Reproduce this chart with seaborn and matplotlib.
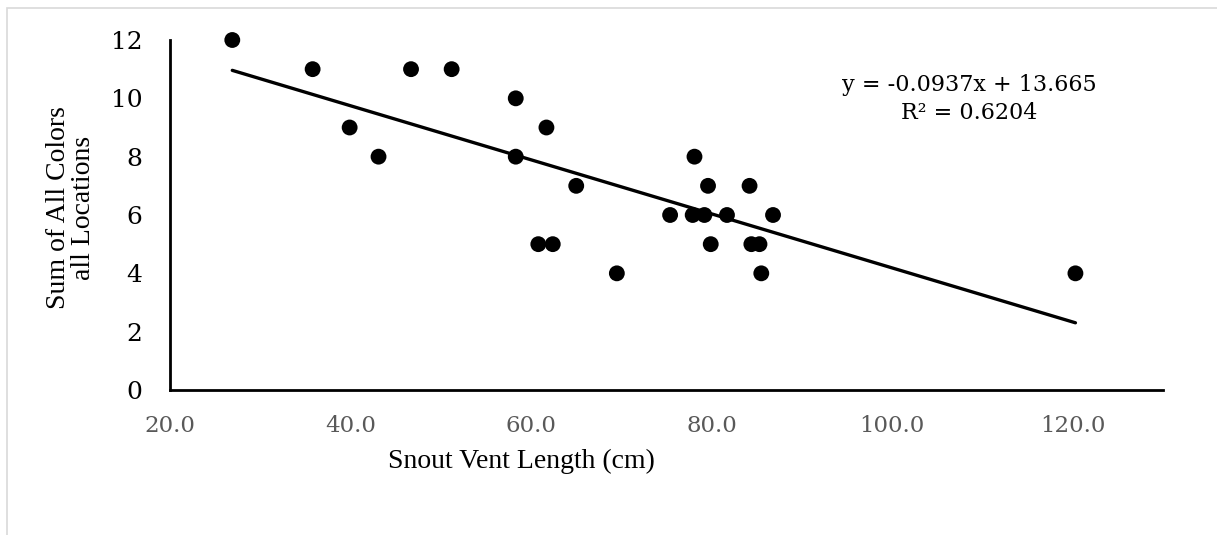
import matplotlib
matplotlib.use("Agg")
import matplotlib.pyplot as plt
from matplotlib.patches import Rectangle
import numpy as np
import pandas as pd
import seaborn as sns

# Data
snout_vent_length = [26.9, 35.8, 39.9, 43.1, 46.7, 51.2, 58.3, 58.3, 61.7, 60.8,
                     62.4, 65.0, 69.5, 75.4, 78.1, 77.9, 79.2, 79.6, 79.9, 81.7,
                     84.2, 84.4, 85.3, 85.5, 86.8, 120.3]
sum_colors = [12, 11, 9, 8, 11, 11, 10, 8, 9, 5,
              5, 7, 4, 6, 8, 6, 6, 7, 5, 6,
              7, 5, 5, 4, 6, 4]
trend_slope = -0.0937
trend_intercept = 13.665
r_squared = 0.6204
x_ticks = [20, 40, 60, 80, 100, 120]
y_ticks = [0, 2, 4, 6, 8, 10, 12]

df = pd.DataFrame({"svl": snout_vent_length, "sum": sum_colors})

sns.set_style("white")
plt.rcParams["font.family"] = ["DejaVu Serif", "DejaVu Sans"]

W, H = 1217, 535
X0, X1, Y0, Y1 = 170, 1163, 390, 40   # axes box in pixels
fig = plt.figure(figsize=(W / 100, H / 100), dpi=100)
ax = fig.add_axes([X0 / W, 1 - Y0 / H, (X1 - X0) / W, (Y0 - Y1) / H])

# light gray chart border
fig.patches.append(Rectangle((7 / W, -0.05), 1.2, 1 - 8 / H + 0.05,
                             transform=fig.transFigure, fill=False,
                             edgecolor="#d9d9d9", linewidth=1.2, zorder=0))

# linear trendline fitted to the data
sns.regplot(data=df, x="svl", y="sum", ax=ax, scatter=False, ci=None,
            truncate=True, color="black", line_kws={"linewidth": 2.4, "zorder": 2})
sns.scatterplot(data=df, x="svl", y="sum", ax=ax, color="black", s=130,
                edgecolor="none", linewidth=0, zorder=3, clip_on=False)

ax.set_xlim(20, 130)
ax.set_ylim(0, 12)
ax.set_xticks(x_ticks)
ax.set_yticks(y_ticks)
ax.set_xticklabels([f"{v:.1f}" for v in x_ticks], color="#595959", fontsize=16.5,
                   fontfamily=["DejaVu Serif"])
ax.set_yticklabels([str(v) for v in y_ticks], color="black", fontsize=18,
                   fontfamily=["DejaVu Serif"])

for side in ["top", "right"]:
    ax.spines[side].set_visible(False)
for side in ["left", "bottom"]:
    ax.spines[side].set_color("black")
    ax.spines[side].set_linewidth(2)
ax.tick_params(axis="both", direction="in", length=7, width=1.5, color="black")
ax.tick_params(axis="x", pad=18)
ax.tick_params(axis="y", pad=20)

ax.set_xlabel("Snout Vent Length (cm)", fontsize=20,
              fontfamily=["Liberation Serif", "DejaVu Serif"], color="black")
ax.xaxis.set_label_coords((521 - X0) / (X1 - X0), -(449 - Y0) / (Y0 - Y1))
ax.set_ylabel("Sum of All Colors\nall Locations", fontsize=20,
              fontfamily=["Liberation Serif", "DejaVu Serif"], color="black",
              linespacing=1.0)
ax.yaxis.set_label_coords(-(X0 - 96) / (X1 - X0), (Y0 - 208) / (Y0 - Y1))

ax.text((969 - X0) / (X1 - X0), (Y0 - 99) / (Y0 - Y1),
        f"y = {trend_slope}x + {trend_intercept}\nR² = {r_squared}",
        transform=ax.transAxes, ha="center", va="center", fontsize=16,
        fontfamily=["DejaVu Serif"], color="black", linespacing=1.4)

ax.set_facecolor("white")
fig.patch.set_facecolor("white")
fig.savefig("out.png", dpi=100, facecolor="white")
